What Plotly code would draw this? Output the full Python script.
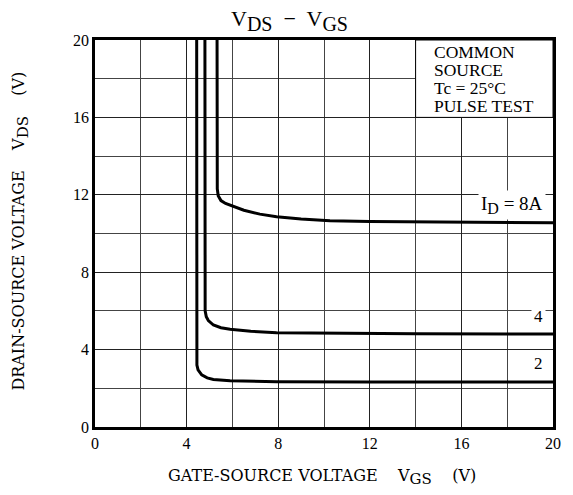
import plotly.graph_objects as go

# Data
vgs_8a = [5.33, 5.33, 5.34, 5.38, 5.5, 5.7, 5.9, 6.5, 7.2, 7.93, 9.0, 10.26, 12, 14, 16, 18, 20]
vds_8a = [20, 14, 12.3, 11.95, 11.7, 11.55, 11.47, 11.2, 11.0, 10.87, 10.75, 10.66, 10.62, 10.6, 10.58, 10.56, 10.55]

vgs_4a = [4.8, 4.8, 4.81, 4.86, 4.95, 5.17, 5.5, 5.9, 6.8, 7.93, 10.26, 14, 20]
vds_4a = [20, 10, 6.0, 5.7, 5.5, 5.27, 5.13, 5.05, 4.95, 4.87, 4.84, 4.82, 4.8]

vgs_2a = [4.44, 4.44, 4.45, 4.5, 4.66, 4.9, 5.17, 5.9, 7.93, 12, 20]
vds_2a = [20, 8, 3.2, 2.95, 2.69, 2.54, 2.46, 2.39, 2.34, 2.33, 2.32]

tick_vals = [0, 4, 8, 12, 16, 20]
tick_text = ["0", "4", "8", "12", "16", "20"]
curve_labels = ["I<sub><span style='font-size:16px'>D</span></sub> = 8A", "4", "2"]
note_lines = ["COMMON", "SOURCE", "Tc = 25°C", "PULSE TEST"]

FONT = "Liberation Serif"
TFONT = "DejaVu Serif"

fig = go.Figure()
for xs, ys in [(vgs_8a, vds_8a), (vgs_4a, vds_4a), (vgs_2a, vds_2a)]:
    fig.add_trace(go.Scatter(x=xs, y=ys, mode="lines",
                             line=dict(color="black", width=3),
                             showlegend=False, hoverinfo="skip"))

axis_common = dict(
    range=[0, 20], tickvals=tick_vals, ticktext=tick_text,
    showgrid=True, gridcolor="#222222", gridwidth=1,
    minor=dict(dtick=2, showgrid=True, gridcolor="#444444", gridwidth=1, tick0=0),
    showline=True, linecolor="black", linewidth=2.5, mirror=True,
    ticks="", zeroline=False,
    tickfont=dict(family=FONT, size=16, color="black"),
)
fig.update_xaxes(**axis_common)
fig.update_yaxes(**axis_common)

# White note box in the upper right corner (hides grid)
fig.add_shape(type="rect", xref="x", yref="y", x0=14, x1=20, y0=16, y1=20,
              fillcolor="white", line=dict(color="black", width=1), layer="between")

annotations = []
for i, t in enumerate(note_lines):
    annotations.append(dict(x=14.72, y=19.38 - i * 0.93, xref="x", yref="y", text=t,
                            showarrow=False, xanchor="left", yanchor="middle",
                            font=dict(family=FONT, size=17.5, color="black")))

label_pos = [(18.2, 11.45), (19.35, 5.7), (19.35, 3.3)]
label_sizes = [19, 17, 17]
for (lx, ly), t, s in zip(label_pos, curve_labels, label_sizes):
    annotations.append(dict(x=lx, y=ly, xref="x", yref="y", text=t, showarrow=False,
                            bgcolor="white", borderpad=2,
                            font=dict(family=FONT, size=s, color="black")))

SUB = "<sub><span style='font-size:%dpx'>%s</span></sub>"
# Title and axis titles
annotations.append(dict(x=0.424, y=1.0, xref="paper", yref="paper", yshift=20,
                        yanchor="middle", xanchor="center",
                        text="V" + SUB % (20, "DS") + "  −  V" + SUB % (20, "GS"), showarrow=False,
                        font=dict(family=FONT, size=22, color="black")))
annotations.append(dict(x=0.496, y=0, xref="paper", yref="paper", yshift=-50,
                        yanchor="middle", xanchor="center",
                        text="GATE-SOURCE VOLTAGE    V" + SUB % (15, "GS") + "    (V)", showarrow=False,
                        font=dict(family=TFONT, size=16, color="black")))
annotations.append(dict(x=0, y=0.505, xref="paper", yref="paper", xshift=-75,
                        yanchor="middle", xanchor="center",
                        text="DRAIN-SOURCE VOLTAGE    V" + SUB % (15, "DS") + "    (V)", showarrow=False,
                        textangle=-90,
                        font=dict(family=TFONT, size=16, color="black")))

# Page body has an 8px default margin: compensate so the plot lands where the reference has it
fig.update_layout(
    width=565, height=487,
    margin=dict(l=87, r=20, t=32, b=68),
    paper_bgcolor="white", plot_bgcolor="white",
    annotations=annotations,
)

fig.write_html("out.html")
